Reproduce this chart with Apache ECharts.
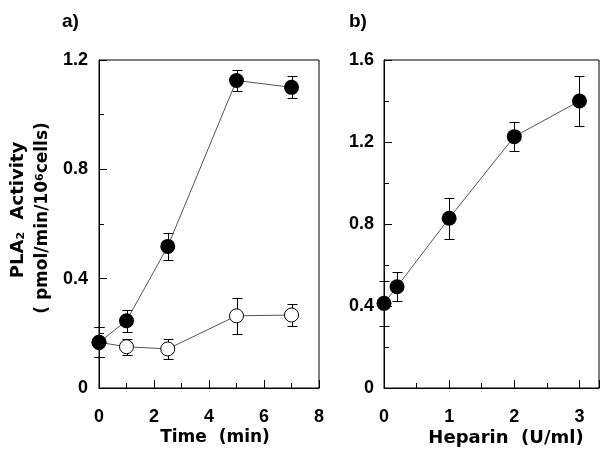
<!DOCTYPE html>
<html>
<head>
<meta charset="utf-8">
<script src="https://cdn.jsdelivr.net/npm/echarts@6/dist/echarts.min.js"></script>
<style>html,body{margin:0;padding:0;background:#fff;}#c{width:602px;height:450px;}</style>
</head>
<body>
<div id="c"></div>
<script>
// Panel a: time course
var timeX = [0, 1, 2.5, 5, 7];
var filledA = [0.167, 0.246, 0.518, 1.125, 1.100];
var filledAErr = [0.055, 0.04, 0.05, 0.04, 0.04];
var openA = [0.167, 0.151, 0.143, 0.264, 0.267];
var openAErr = [0.055, 0.03, 0.037, 0.065, 0.04];
var xTicksA = [0, 2, 4, 6, 8];
var yTicksA = [0, 0.4, 0.8, 1.2];
// Panel b: heparin dose
var heparinX = [0, 0.2, 1, 2, 3];
var heparinY = [0.413, 0.494, 0.828, 1.226, 1.40];
var heparinErr = [0.11, 0.07, 0.1, 0.07, 0.12];
var xTicksB = [0, 1, 2, 3];
var yTicksB = [0, 0.4, 0.8, 1.2, 1.6];

var TICKFONT = 'Liberation Sans, Arial, sans-serif';
var TITLEFONT = 'DejaVu Sans, sans-serif';

function pairs(xs, ys) { return xs.map(function (x, i) { return [x, ys[i]]; }); }
function errData(xs, ys, es) { return xs.map(function (x, i) { return [x, ys[i] - es[i], ys[i] + es[i]]; }); }

function errRender(params, api) {
  var x = api.value(0), lo = api.value(1), hi = api.value(2);
  var p1 = api.coord([x, hi]), p2 = api.coord([x, lo]);
  var cx = Math.round(p1[0]) + 0.5, y1 = Math.round(p1[1]) + 0.5, y2 = Math.round(p2[1]) + 0.5;
  var w = 5;
  var st = { stroke: '#000', lineWidth: 1 };
  return { type: 'group', children: [
    { type: 'line', shape: { x1: cx, y1: y1, x2: cx, y2: y2 }, style: st },
    { type: 'line', shape: { x1: cx - w, y1: y1, x2: cx + w, y2: y1 }, style: st },
    { type: 'line', shape: { x1: cx - w, y1: y2, x2: cx + w, y2: y2 }, style: st }
  ]};
}

function valueAxis(gi, min, max, interval, ticks, margin) {
  return {
    type: 'value', gridIndex: gi, min: min, max: max, interval: interval,
    axisLine: { show: true, lineStyle: { color: '#000', width: 1 } },
    axisTick: { show: true, inside: true, length: 8, lineStyle: { color: '#000', width: 1 } },
    minorTick: { show: true, splitNumber: 2, length: 5, lineStyle: { color: '#000', width: 1 } },
    splitLine: { show: false },
    axisLabel: {
      show: true, margin: margin, color: '#000', fontFamily: TICKFONT, fontWeight: 'bold', fontSize: 18,
      formatter: function (v) {
        for (var i = 0; i < ticks.length; i++) { if (Math.abs(ticks[i] - v) < 1e-9) return String(ticks[i]); }
        return '';
      }
    }
  };
}

var chart = echarts.init(document.getElementById('c'), null, { renderer: 'canvas' });
var lineColor = '#555';
var option = {
  animation: false,
  backgroundColor: '#fff',
  grid: [
    { left: 99, top: 60, width: 220, height: 328, show: true, borderColor: '#000', borderWidth: 1, backgroundColor: 'transparent' },
    { left: 384, top: 60, width: 222, height: 328, show: true, borderColor: '#000', borderWidth: 1, backgroundColor: 'transparent' }
  ],
  xAxis: [
    valueAxis(0, 0, 8, 2, xTicksA, 20),
    valueAxis(1, 0, 3.3, 1, xTicksB, 20)
  ],
  yAxis: [
    valueAxis(0, 0, 1.2, 0.4, yTicksA, 11),
    valueAxis(1, 0, 1.6, 0.4, yTicksB, 10)
  ],
  series: [
    { type: 'custom', xAxisIndex: 0, yAxisIndex: 0, renderItem: errRender, data: errData(timeX, openA, openAErr), encode: { x: 0, y: [1, 2] }, z: 2, clip: false },
    { type: 'custom', xAxisIndex: 0, yAxisIndex: 0, renderItem: errRender, data: errData(timeX, filledA, filledAErr), encode: { x: 0, y: [1, 2] }, z: 2, clip: false },
    { type: 'line', xAxisIndex: 0, yAxisIndex: 0, data: pairs(timeX, openA), symbol: 'circle', symbolSize: 14,
      itemStyle: { color: '#fff', borderColor: '#000', borderWidth: 1 }, lineStyle: { color: lineColor, width: 1 }, z: 3, clip: false },
    { type: 'line', xAxisIndex: 0, yAxisIndex: 0, data: pairs(timeX, filledA), symbol: 'circle', symbolSize: 15,
      itemStyle: { color: '#000', borderColor: '#000', borderWidth: 0 }, lineStyle: { color: lineColor, width: 1 }, z: 4, clip: false },
    { type: 'custom', xAxisIndex: 1, yAxisIndex: 1, renderItem: errRender, data: errData(heparinX, heparinY, heparinErr), encode: { x: 0, y: [1, 2] }, z: 2, clip: false },
    { type: 'line', xAxisIndex: 1, yAxisIndex: 1, data: pairs(heparinX, heparinY), symbol: 'circle', symbolSize: 15,
      itemStyle: { color: '#000', borderColor: '#000', borderWidth: 0 }, lineStyle: { color: lineColor, width: 1 }, z: 4, clip: false }
  ],
  graphic: [
    { type: 'text', x: 62, y: 22, style: { text: 'a)', fontFamily: TICKFONT, fontWeight: 'bold', fontSize: 19, fill: '#000', align: 'left', verticalAlign: 'middle' } },
    { type: 'text', x: 349, y: 22, style: { text: 'b)', fontFamily: TICKFONT, fontWeight: 'bold', fontSize: 19, fill: '#000', align: 'left', verticalAlign: 'middle' } },
    { type: 'text', x: 215, y: 438, style: { text: 'Time  (min)', fontFamily: TITLEFONT, fontWeight: 'bold', fontSize: 17, fill: '#000', align: 'center', verticalAlign: 'middle' } },
    { type: 'text', x: 506, y: 438, style: { text: 'Heparin  (U/ml)', fontFamily: TITLEFONT, fontWeight: 'bold', fontSize: 18, fill: '#000', align: 'center', verticalAlign: 'middle' } },
    { type: 'text', x: 18, y: 210, rotation: Math.PI / 2, style: {
        text: '{a|PLA}{s|2}{a|  Activity}', align: 'center', verticalAlign: 'middle',
        rich: {
          a: { fontFamily: TITLEFONT, fontWeight: 'bold', fontSize: 18, fill: '#000', verticalAlign: 'bottom' },
          s: { fontFamily: TITLEFONT, fontWeight: 'bold', fontSize: 11, fill: '#000', verticalAlign: 'bottom' }
        } } },
    { type: 'text', x: 43, y: 218, rotation: Math.PI / 2, style: {
        text: '{a|( pmol/min/10}{s|6}{a|cells)}', align: 'center', verticalAlign: 'middle',
        rich: {
          a: { fontFamily: TITLEFONT, fontWeight: 'bold', fontSize: 17, fill: '#000', verticalAlign: 'bottom' },
          s: { fontFamily: TITLEFONT, fontWeight: 'bold', fontSize: 11, fill: '#000', verticalAlign: 'top' }
        } } }
  ]
};
chart.setOption(option);
</script>
</body>
</html>
